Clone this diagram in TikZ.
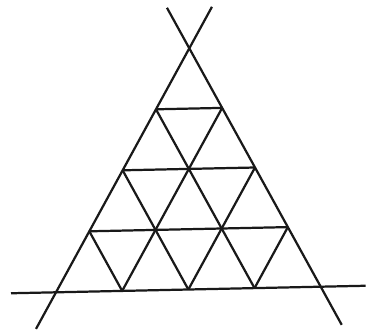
\documentclass[tikz,border=0pt]{standalone}
\usepackage{tikz}
\usetikzlibrary{calc}
\tikzset{
  side/.style={line width=1.9pt,black!90},
  grid/.style={line width=1.9pt,black!90},
}
\begin{document}
\begin{tikzpicture}[x=0.03cm,y=-0.03cm]
  \useasboundingbox (0,0) rectangle (372,330);
  \coordinate (A) at (189.3,48.3);
  \coordinate (B) at (56,292.3);
  \coordinate (C) at (320.7,286.7);
  % sides, run on past the corners
  \draw[side] ($(B)!-0.15!(A)$) -- ($(A)!-0.17!(B)$);
  \draw[side] ($(C)!-0.16!(A)$) -- ($(A)!-0.17!(C)$);
  \draw[side] ($(B)!-0.17!(C)$) -- ($(C)!-0.17!(B)$);
  % four rows of small triangles
  \foreach \i [evaluate=\i as \j using 4-\i] in {1,2,3} {
    \draw[grid] ($(A)!\i/4!(B)$) -- ($(A)!\i/4!(C)$);
    \draw[grid] ($(A)!\i/4!(B)$) -- ($(B)!\j/4!(C)$);
    \draw[grid] ($(A)!\i/4!(C)$) -- ($(C)!\j/4!(B)$);
  }
\end{tikzpicture}
\end{document}
